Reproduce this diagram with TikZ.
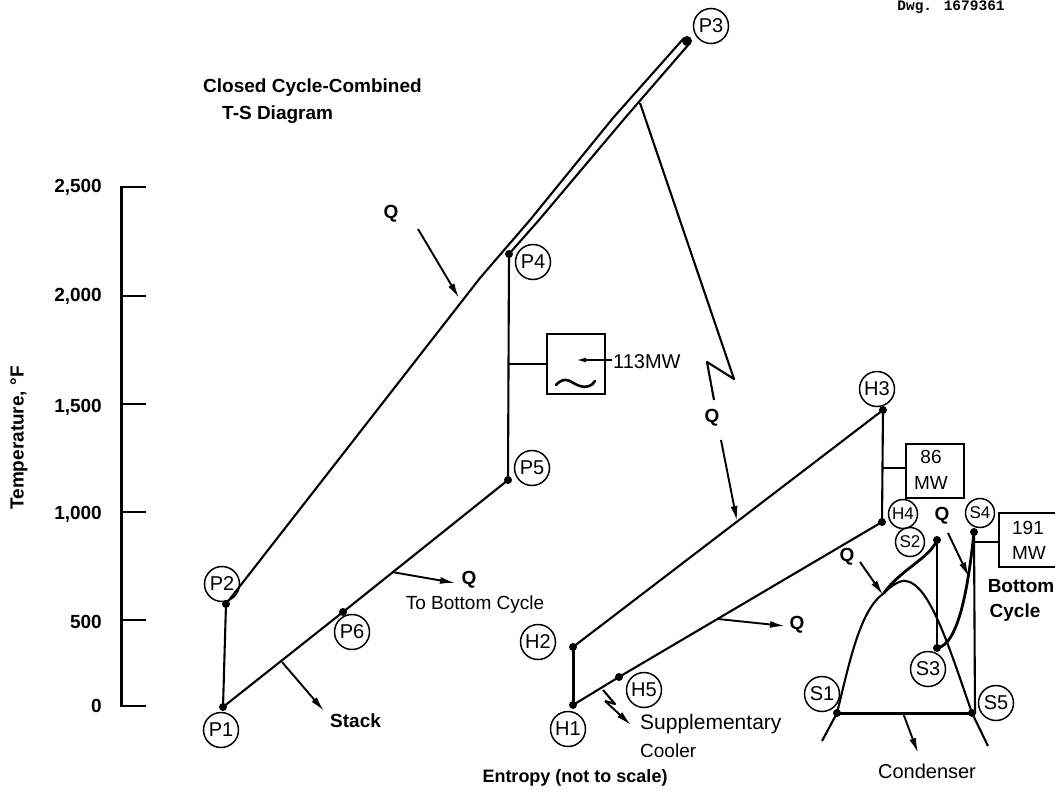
\documentclass[tikz,border=0pt]{standalone}
\usepackage{fontspec}
\setmainfont{Liberation Sans}
\newfontfamily\monof{Liberation Mono}
\usetikzlibrary{arrows.meta}
\tikzset{
 ln/.style={line width=2.1pt,line join=round},
 thick line/.style={line width=3pt},
 arr/.style={line width=1.9pt,-{Latex[length=15pt,width=7pt]}},
 dotn/.style={circle,fill=black,inner sep=0pt,minimum size=8pt},
 st/.style={circle,draw,line width=1.5pt,inner sep=0pt,minimum size=35pt,font=\fontsize{20}{20}\selectfont},
 sts/.style={st,minimum size=29pt,font=\fontsize{17}{17}\selectfont},
 lab/.style={inner sep=0pt,font=\fontsize{19}{20}\selectfont\bfseries},
 lat/.style={inner sep=0pt,font=\fontsize{19}{20}\selectfont},
 box/.style={draw,line width=2pt,inner sep=0pt,anchor=north west}
}
\begin{document}
\begin{tikzpicture}[x=1pt,y=-1pt]
\useasboundingbox (0,0) rectangle (1055,792);
\clip (0,0) rectangle (1055,792);
% axis
\draw[thick line] (121,186) -- (121,707);
\foreach \y in {187,296,404,512,620,706} \draw[line width=2pt] (121,\y) -- (146,\y);
\foreach \y/\t in {187/{2,500},296/{2,000},407/{1,500},514/{1,000},622/500,706/0}
  \node[lab,anchor=east] at (102,\y) {\t};
\node[lab,rotate=90] (tl) at (19,438) {Temperature, °F};
\node[lab,anchor=west] (t1) at (203,88) {Closed Cycle-Combined};
\node[lab,anchor=west] (t2) at (222,115) {T-S Diagram};
\node[inner sep=0pt,anchor=base,font=\monof\fontsize{14.5}{14.5}\selectfont\bfseries] (dwg) at (951,11) {Dwg. 1679361};
% coordinates
\coordinate (p1) at (223,707);
\coordinate (p2) at (226,604);
\coordinate (p3) at (687,41);
\coordinate (p4) at (509,254);
\coordinate (p5) at (508,480);
\coordinate (p6) at (343,612);
\coordinate (h1) at (573,705);
\coordinate (h2) at (573,647);
\coordinate (h3) at (883,410);
\coordinate (h4) at (882,522);
\coordinate (h5) at (619,677);
\coordinate (s1) at (837,713);
\coordinate (s2) at (937,540);
\coordinate (s3) at (937,648);
\coordinate (s4) at (974,532);
\coordinate (s5) at (972,713);
% main cycle
\draw[ln] (p1) -- (p2) -- (480,278) -- (530,220) -- (613,118) -- (684,38);
\draw[ln] (p4) -- (539,220) -- (625,118) -- (689,44);
\draw[ln] (p4) -- (p5) -- (p6) -- (p1);
\foreach \c in {p1,p2,p4,p5,p6,h1,h2,h3,h4,h5,s1,s2,s3,s4,s5} \node[dotn] at (\c) {};
\node[dotn,minimum size=10pt] at (p3) {};
\node[st] (np1) at (221,730) {P1};
\node[st] (np2) at (222,584) {P2};
\node[st] (np3) at (711,26) {P3};
\node[st] (np4) at (533,262) {P4};
\node[st] (np5) at (532,468) {P5};
\node[st] (np6) at (352,632) {P6};
% Q arrows, main
\coordinate (qa) at (459,298);
\draw[arr] (418,229) -- (qa);
\node[lab] (q1) at (391,214) {Q};
\coordinate (st0) at (282,662);
\draw[arr] (st0) -- (324,711);
\node[lab,anchor=west] (stack) at (330,721) {Stack};
\coordinate (tb0) at (392,572);
\draw[arr] (tb0) -- (455,583);
\node[lab] (q2) at (469,580) {Q};
\node[lat] (tobot) at (475,605) {To Bottom Cycle};
% generator
\node[box,minimum width=58pt,minimum height=60pt] (gen) at (546,333) {};
\draw[ln] (509,364) -- (gen.west|-509,364);
\draw[line width=1.8pt,-{Latex[length=10pt,width=5pt]}] (612,360) -- (576,360);
\draw[line width=2.6pt,line cap=round] (556,385) .. controls (566,374) and (572,384) .. (580,386) .. controls (587,388) and (592,386) .. (595,381);
\node[inner sep=0pt,anchor=west,font=\fontsize{20}{20}\selectfont] (mw) at (613,362) {113MW};
% long Q stem
\coordinate (lq) at (640,103);
\draw[ln] (lq) -- (734,379) -- (707,362) -- (714,400);
\node[lab] (q3) at (712,418) {Q};
\draw[arr] (721,440) -- (737,521);
% H cycle
\draw[line width=3pt] (h1) -- (h2);
\draw[ln] (h2) -- (h3) -- (h4) -- (h5) -- (h1);
\node[st] (nh1) at (568,729) {H1};
\node[st] (nh2) at (538,642) {H2};
\node[st] (nh3) at (877,389) {H3};
\node[sts] (nh4) at (903,514) {H4};
\node[st] (nh5) at (644,690) {H5};
\draw[arr] (718,619) -- (785,626);
\node[lab] (q4) at (797,625) {Q};
\draw[ln] (603,690) -- (615,704) -- (605,701);
\draw[arr] (605,701) -- (631,725);
\node[lat,anchor=west,font=\fontsize{21}{21}\selectfont] (sup) at (640,724) {Supplementary};
\node[lat,anchor=west] (coo) at (640,751) {Cooler};
\node[lab,font=\fontsize{18}{20}\selectfont\bfseries] (ent) at (575,778) {Entropy (not to scale)};
% 86 MW
\node[box,minimum width=58pt,minimum height=54pt] (b86) at (905,443) {};
\draw[ln] (883,468) -- (905,468);
\node[lat] (t86) at (931,457) {86};
\node[lat] (m86) at (931,483) {MW};
% bottom cycle
\draw[line width=2.1pt] (822,741) -- (s1) .. controls (850,660) and (860,610) .. (884,593)
  .. controls (892,585) and (900,580) .. (906,581) .. controls (930,584) and (950,650) .. (s5) -- (988,746);
\draw[line width=2.8pt] (884,593) .. controls (900,570) and (930,558) .. (s2);
\draw[ln] (s2) -- (s3);
\draw[line width=2.8pt] (s3) .. controls (958,645) and (968,590) .. (s4);
\draw[line width=2.1pt] (s4) -- (975,713);
\draw[line width=3pt] (s1) -- (s5);
\node[sts] (ns2) at (910,542) {S2};
\node[st] (ns3) at (928,669) {S3};
\node[sts] (ns4) at (980,513) {S4};
\node[st] (ns1) at (822,694) {S1};
\node[st] (ns5) at (996,703) {S5};
\draw[arr] (860,562) -- (883,595);
\node[lab] (q5) at (847,557) {Q};
\draw[arr] (948,533) -- (969,577);
\node[lab] (q6) at (942,516) {Q};
\draw[arr] (903,713) -- (918,753);
\node[lat,font=\fontsize{20}{20}\selectfont] (cond) at (927,771) {Condenser};
% 191
\draw[line width=2pt] (1056,513) -- (999,513) -- (999,567) -- (1056,567);
\draw[ln] (974,542) -- (999,542);
\node[lat] (t191) at (1028,528) {191};
\node[lat] (m191) at (1029,553) {MW};
\node[lab] (bt) at (1021,586) {Bottom};
\node[lab] (cy) at (1015,613) {Cycle};
\end{tikzpicture}
\end{document}
